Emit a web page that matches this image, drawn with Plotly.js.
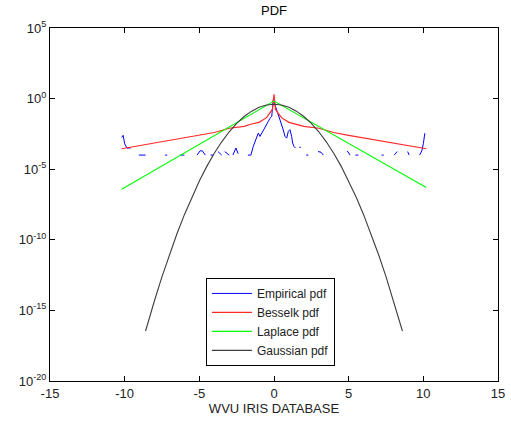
<!DOCTYPE html>
<html>
<head>
<meta charset="utf-8">
<script src="https://cdn.plot.ly/plotly-3.0.1.min.js"></script>
<style>html,body{margin:0;padding:0;background:#fff;}#chart{width:511px;height:423px;}</style>
</head>
<body>
<div id="chart"></div>
<script>
// ---- data (y stored as log10 exponents) ----
var empX = [-10.2,-10.1,-10.0,-9.85,-9.6,null,
  -9.05,-8.85,-8.6,null,
  -7.3,-7.15,null,
  -6.3,-6.0,null,
  -5.15,-4.95,-4.8,-4.6,null,
  -4.25,-4.05,null,
  -3.75,-3.5,null,
  -3.3,-3.0,null,
  -2.75,-2.55,-2.4,null,
  -1.75,-1.55,-1.39,-1.16,-1.05,-0.94,-0.6,-0.38,-0.27,-0.15,-0.05,0.18,0.4,0.58,0.74,0.85,0.96,1.07,1.18,1.25,1.34,1.44,null,
  1.7,1.8,null,
  2.15,2.3,null,
  2.95,3.15,3.3,null,
  4.9,5.1,null,
  5.45,5.65,null,
  7.2,7.35,null,
  8.05,8.25,null,
  8.95,9.05,null,
  9.75,9.9,10.0,10.1];
var empLog = [-2.75,-2.6,-3.2,-3.5,-3.5,null,
  -4,-4,-4,null,
  -4,-4,null,
  -4,-4,null,
  -4,-3.7,-3.7,-4,null,
  -4,-4,null,
  -3.75,-4,null,
  -3.75,-4,null,
  -4,-3.5,-3.9,null,
  -4,-4,-3.39,-2.8,-2.44,-2.68,-1.97,-1.61,-1.4,-1.25,-0.07,-0.78,-1.49,-2.08,-2.68,-2.8,-2.32,-2.2,-2.68,-3.15,-3.39,-3.5,null,
  -3.45,-3.45,null,
  -4,-4,null,
  -3.75,-3.8,-4,null,
  -3.7,-4,null,
  -4,-4,null,
  -4,-4,null,
  -4,-3.75,null,
  -3.75,-4,null,
  -4,-3.7,-3.2,-2.45];

var besX = [-10.2,-8,-6,-5,-4,-3,-2,-1.5,-1,-0.5,-0.25,-0.1,0,0.1,0.25,0.5,1,1.5,2,3,4,5,6,8,10.2];
var besLog = [-3.55,-3.15,-2.78,-2.6,-2.4,-2.1,-1.97,-1.8,-1.68,-1.35,-1.0,-0.75,0.3,-0.75,-1.0,-1.35,-1.68,-1.8,-1.97,-2.1,-2.4,-2.6,-2.78,-3.15,-3.55];

var lapX = [-10.2,0,10.2];
var lapLog = [-6.42,-0.18,-6.3];

var gauX = [-8.6,-8.5,-8,-7.5,-7,-6.5,-6,-5.5,-5,-4.5,-4,-3.5,-3,-2.5,-2,-1.5,-1,-0.5,0,0.5,1,1.5,2,2.5,3,3.5,4,4.5,5,5.5,6,6.5,7,7.5,8,8.5,8.6];
var gauLog = [-16.46,-16.09,-14.30,-12.61,-11.04,-9.57,-8.22,-6.97,-5.83,-4.80,-3.87,-3.06,-2.35,-1.76,-1.27,-0.89,-0.62,-0.45,-0.40,-0.45,-0.62,-0.89,-1.27,-1.76,-2.35,-3.06,-3.87,-4.80,-5.83,-6.97,-8.22,-9.57,-11.04,-12.61,-14.30,-16.09,-16.46];

var yTickExp = [5,0,-5,-10,-15,-20];
var xTickVals = [-15,-10,-5,0,5,10,15];
var seriesNames = ['Empirical pdf','Besselk pdf','Laplace pdf','Gaussian pdf'];

function pow10(a){ return a.map(function(v){ return v===null ? null : Math.pow(10, v); }); }

var traces = [
  {x: empX, y: pow10(empLog), name: seriesNames[0], mode:'lines', connectgaps:false, line:{color:'rgb(0,0,255)', width:1}},
  {x: besX, y: pow10(besLog), name: seriesNames[1], mode:'lines', line:{color:'rgb(255,40,40)', width:1.2}},
  {x: lapX, y: pow10(lapLog), name: seriesNames[2], mode:'lines', line:{color:'rgb(0,255,0)', width:1.1}},
  {x: gauX, y: pow10(gauLog), name: seriesNames[3], mode:'lines', line:{color:'rgb(60,60,60)', width:1.1}}
];

var font = {family:'"Liberation Sans", Arial, sans-serif', size:13, color:'#222'};
var layout = {
  width:511, height:423,
  margin:{l:50, r:13, t:28, b:42, pad:0},
  paper_bgcolor:'#fff', plot_bgcolor:'#fff',
  font: font,
  showlegend:true,
  title:{text:'PDF', font:{family:font.family, size:13, color:'#000'}, x:0.5, xref:'paper', xanchor:'center', y:1-10/423, yanchor:'middle'},
  xaxis:{range:[-15,15], tickvals:xTickVals, ticktext:xTickVals.map(String), ticks:'inside', ticklen:5, tickcolor:'#000',
    showline:true, linecolor:'#000', linewidth:1, mirror:'ticks', showgrid:false, zeroline:false,
    title:{text:'WVU IRIS DATABASE', font:{family:font.family, size:13, color:'#222'}, standoff:4}},
  yaxis:{type:'log', range:[-20,5], tickvals:yTickExp.map(function(e){return Math.pow(10,e);}),
    ticktext:yTickExp.map(function(e){return '10<sup>'+e+'</sup>';}),
    ticks:'inside', ticklen:5, tickcolor:'#000', showline:true, linecolor:'#000', linewidth:1, mirror:'ticks',
    showgrid:false, zeroline:false},
  legend:{x:0.348, y:0.292, xanchor:'left', yanchor:'top', bgcolor:'#fff', bordercolor:'#000', borderwidth:1,
    font:{family:font.family, size:12, color:'#222'}, itemwidth:40, tracegroupgap:0}
};
Plotly.newPlot('chart', traces, layout, {staticPlot:true, displayModeBar:false});
</script>
</body>
</html>
